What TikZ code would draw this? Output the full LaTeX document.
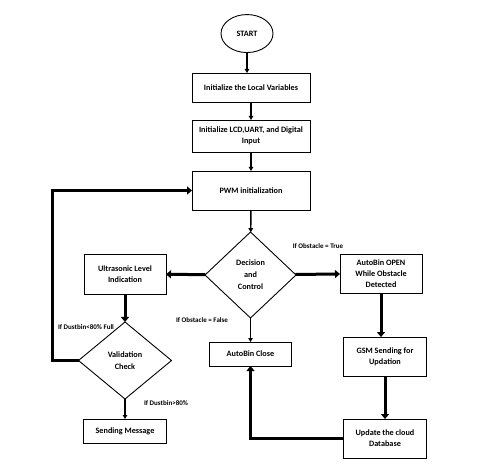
\documentclass[tikz,border=0pt]{standalone}
\usepackage{fontspec}
\setmainfont{Carlito}
\usetikzlibrary{arrows.meta,positioning,shapes.geometric}

\begin{document}
\begin{tikzpicture}[x=1pt, y=-1pt,
    font=\fontsize{8.2}{10}\selectfont\bfseries,
    box/.style={draw=black, line width=0.9pt, align=center, inner sep=1pt, outer sep=0pt},
    dec/.style={diamond, draw=black, line width=0.9pt, align=center, inner sep=0pt, outer sep=0pt},
    lbl/.style={font=\fontsize{7}{8.5}\selectfont\bfseries, inner sep=0pt},
    thn/.style={-{Triangle[length=4pt, width=4.5pt]}, line width=1.4pt},
    thk/.style={-{Triangle[length=5pt, width=8pt]}, line width=3pt}
  ]
  \useasboundingbox (0,0) rectangle (492,465);
  % main column
  \node[box, minimum width=118pt, minimum height=29pt] (init) at (251,87.5) {Initialize the Local Variables};
  \node[ellipse, draw=black, line width=0.9pt, minimum width=52pt, minimum height=38pt, above=20pt of init, xshift=-4pt] (start) {START};
  \node[box, minimum width=118pt, minimum height=32pt, below=18pt of init] (lcd) {Initialize LCD,UART, and Digital\\[1pt] Input};
  \node[box, minimum width=118pt, minimum height=39pt, below=19pt of lcd] (pwm) {PWM initialization};
  \node[dec, minimum width=91pt, minimum height=86pt] (decide) at (250.5,275) {Decision\\[2pt] and\\[2pt] Control};
  \node[box, minimum width=82pt, minimum height=24pt, below=24pt of decide] (close) {AutoBin Close};
  % right column
  \node[box, minimum width=82pt, minimum height=39pt] (open) at (381,273.5) {AutoBin OPEN\\[1pt] While Obstacle\\[1pt] Detected};
  \node[box, minimum width=83pt, minimum height=39pt, below=44pt of open, xshift=4pt] (gsm) {GSM Sending for\\[1pt] Updation};
  \node[box, minimum width=83pt, minimum height=39pt, below=43pt of gsm] (cloud) {Update the cloud\\[1pt] Database};
  % left column
  \node[box, minimum width=82pt, minimum height=40pt] (ultra) at (125,274) {Ultrasonic Level\\[1pt] Indication};
  \node[dec, minimum width=93pt, minimum height=77pt, below=28pt of ultra] (valid) {Validation\\[2pt] Check};
  \node[box, minimum width=83pt, minimum height=24pt, below=20pt of valid] (msg) {Sending Message};
  % conditions
  \node[lbl] (ltrue) at (318,246) {If Obstacle = True};
  \node[lbl] (lfalse) at (202,320) {If Obstacle = False};
  \node[lbl] (lfull) at (86,327) {If Dustbin<80\% Full};
  \node[lbl] (lover) at (166,403) {If Dustbin>80\%};

  \draw[thn] (start) -- (start |- init.north);
  \draw[thn, line width=1.8pt] (init) -- (lcd);
  \draw[thn] (lcd) -- (pwm);
  \draw[thn] (pwm) -- (decide);
  \draw[thk] (decide) -- (ultra);
  \draw[thk] (decide) -- (open);
  \draw[thn] (decide) -- (close);
  \draw[thk] (ultra) -- (valid);
  \draw[thn] (valid) -- (msg);
  \draw[thk] (valid.west) -- ++(-26,0) |- (pwm.west);
  \draw[thk] (open) -- (open |- gsm.north);
  \draw[thk] (gsm) -- (cloud);
  \draw[thk] (cloud.west) -| (close.south);
\end{tikzpicture}
\end{document}
